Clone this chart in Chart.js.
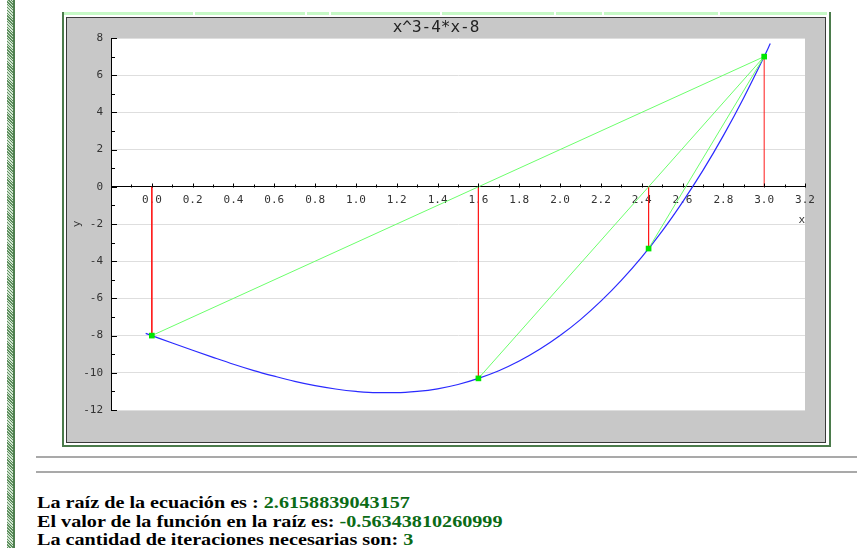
<!DOCTYPE html>
<html>
<head>
<meta charset="utf-8">
<script src="https://cdn.jsdelivr.net/npm/chart.js@4.4.1/dist/chart.umd.min.js"></script>
<style>
  body { margin: 0; background: #fff; width: 865px; height: 548px; overflow: hidden; position: relative; }
  #franja { position: absolute; left: 7px; top: 0; width: 6px; height: 548px;
    background: repeating-linear-gradient(45deg, #5d8f5d 0 1px, #d3e6d3 1px 2px);
    border-right: 2px solid #4f7f4f; }
  #marco { position: absolute; left: 62px; top: 12px; width: 765px; height: 433px;
    border-left: 2px solid #4b7b4b; border-right: 2px solid #4b7b4b; border-bottom: 2px solid #4b7b4b; }
  #barraSup { position: absolute; left: 64px; top: 12px; width: 763px; height: 3px; background: #c6f9c6; }
  .hueco { position: absolute; top: 12px; width: 2px; height: 3px; background: #fff; }
  #panel { position: absolute; left: 66px; top: 17px; width: 760px; height: 426px; box-sizing: border-box;
    border: 1px solid #3a3a3a; background: #c8c8c8; }
  #contenedor { position: absolute; left: 0; top: 0; width: 758px; height: 424px; }
  .regla { position: absolute; left: 36px; width: 821px; height: 2px; background: #a9a9a9; }
  #texto { position: absolute; left: 37px; top: 494px; font: bold 16px "Liberation Serif", serif; line-height: 18.5px;
    color: #000; transform: scaleX(1.26); transform-origin: 0 0; white-space: nowrap; }
  #texto span { color: #0b6b16; }
</style>
</head>
<body>
<div id="franja"></div>
<div id="marco"></div>
<div id="barraSup"></div>
<div id="panel"><div id="contenedor"><canvas id="grafico"></canvas></div></div>
<div class="regla" style="top:456px"></div>
<div class="regla" style="top:471px"></div>
<div id="texto">
  <div>La raíz de la ecuación es : <span>2.6158839043157</span></div>
  <div>El valor de la función en la raíz es: <span>-0.56343810260999</span></div>
  <div>La cantidad de iteraciones necesarias son: <span>3</span></div>
</div>
<script>
// Datos
const titulo = 'x^3-4*x-8';
const curvaX = [-0.03, 0, 0.1, 0.2, 0.3, 0.4, 0.5, 0.6, 0.7, 0.8, 0.9, 1.0, 1.1, 1.2, 1.3, 1.4, 1.5,
                1.6, 1.7, 1.8, 1.9, 2.0, 2.1, 2.2, 2.3, 2.4, 2.5, 2.6, 2.7, 2.8, 2.9, 3.0, 3.03];
const curvaY = [-7.88, -8.0, -8.4, -8.79, -9.17, -9.54, -9.88, -10.18, -10.46, -10.69, -10.87, -11.0, -11.07, -11.07,
                -11.0, -10.86, -10.63, -10.3, -9.89, -9.37, -8.74, -8.0, -7.14, -6.15, -5.03, -3.78, -2.38,
                -0.82, 0.88, 2.75, 4.79, 7.0, 7.7];
const iterX = [0, 1.6, 2.4337, 3.0];
const iterY = [-8.0, -10.3, -3.32, 7.0];
const xTicks = [-0.2, 0, 0.2, 0.4, 0.6, 0.8, 1.0, 1.2, 1.4, 1.6, 1.8, 2.0, 2.2, 2.4, 2.6, 2.8, 3.0, 3.2];
const xEtiquetas = ['', '0.0', '0.2', '0.4', '0.6', '0.8', '1.0', '1.2', '1.4', '1.6', '1.8', '2.0',
                    '2.2', '2.4', '2.6', '2.8', '3.0', '3.2'];
const yTicks = [8, 6, 4, 2, 0, -2, -4, -6, -8, -10, -12];
const huecosBarra = [193, 305, 329, 440, 554, 602, 718];

huecosBarra.forEach(function(x) {
    const h = document.createElement('div');
    h.className = 'hueco';
    h.style.left = x + 'px';
    document.body.appendChild(h);
});

const fuenteEjes = { family: 'DejaVu Sans Mono', size: 11 };

// Puntos de cada iteracion
const puntos = iterX.map((x, i) => ({ x: x, y: iterY[i] }));
const ultimo = puntos[puntos.length - 1];

const datasets = [];
datasets.push({
    data: puntos,
    showLine: false,
    pointStyle: 'rect',
    pointRadius: 4,
    backgroundColor: '#00e600',
    borderWidth: 0
});
// Secantes (verde)
for (let i = 0; i < puntos.length - 1; i++) {
    datasets.push({
        data: [puntos[i], ultimo],
        showLine: true,
        borderColor: '#6cff6c',
        borderWidth: 1,
        pointRadius: 0
    });
}
// Verticales (rojo)
puntos.forEach(function(p) {
    datasets.push({
        data: [{ x: p.x, y: 0 }, p],
        showLine: true,
        borderColor: '#ff1a1a',
        borderWidth: 1,
        pointRadius: 0
    });
});
// Funcion
datasets.push({
    data: curvaX.map((x, i) => ({ x: x, y: curvaY[i] })),
    showLine: true,
    borderColor: '#2a2aff',
    borderWidth: 1.2,
    pointRadius: 0,
    cubicInterpolationMode: 'monotone'
});

// Fondo blanco del area y marcas hacia adentro
const fondoYMarcas = {
    id: 'fondoYMarcas',
    beforeDraw(chart) {
        const { ctx, chartArea: a } = chart;
        ctx.save();
        ctx.fillStyle = '#ffffff';
        ctx.fillRect(a.left, a.top, a.right - a.left, a.bottom - a.top);
        ctx.restore();
    },
    afterDraw(chart) {
        const { ctx, chartArea: a, scales: { x, y } } = chart;
        const y0 = Math.round(y.getPixelForValue(0)) + 0.5;
        ctx.save();
        ctx.strokeStyle = '#000';
        ctx.lineWidth = 1;
        ctx.beginPath();
        for (let i = 0; i < yTicks.length; i++) {
            const py = Math.round(y.getPixelForValue(yTicks[i])) + 0.5;
            ctx.moveTo(a.left, py);
            ctx.lineTo(a.left + 6, py);
            if (i < yTicks.length - 1) {
                const pm = Math.round(y.getPixelForValue((yTicks[i] + yTicks[i + 1]) / 2)) + 0.5;
                ctx.moveTo(a.left, pm);
                ctx.lineTo(a.left + 4, pm);
            }
        }
        for (let i = 0; i < xTicks.length; i++) {
            const px = Math.round(x.getPixelForValue(xTicks[i])) + 0.5;
            ctx.moveTo(px, y0);
            ctx.lineTo(px, y0 - 4);
            if (i < xTicks.length - 1) {
                const pm = Math.round(x.getPixelForValue((xTicks[i] + xTicks[i + 1]) / 2)) + 0.5;
                ctx.moveTo(pm, y0);
                ctx.lineTo(pm, y0 - 3);
            }
        }
        ctx.stroke();
        ctx.restore();
    }
};

new Chart(document.getElementById('grafico'), {
    type: 'scatter',
    data: { datasets: datasets },
    plugins: [fondoYMarcas],
    options: {
        responsive: true,
        maintainAspectRatio: false,
        animation: false,
        layout: { padding: { top: 0, right: 20, bottom: 32, left: 0 } },
        plugins: {
            legend: { display: false },
            tooltip: { enabled: false },
            title: {
                display: true,
                text: titulo,
                color: '#222',
                font: { family: 'DejaVu Sans Mono', size: 16, weight: 'normal', lineHeight: 1 },
                padding: { top: 2, bottom: 2 }
            }
        },
        scales: {
            x: {
                type: 'linear',
                position: { y: 0 },
                min: -0.2,
                max: 3.2,
                afterBuildTicks: s => { s.ticks = xTicks.map(v => ({ value: v })); },
                ticks: {
                    autoSkip: false,
                    maxRotation: 0,
                    padding: 7,
                    color: '#333',
                    font: fuenteEjes,
                    callback: (v, i) => xEtiquetas[i]
                },
                grid: { display: false, drawTicks: false },
                border: { display: true, color: '#000', width: 1 },
                title: {
                    display: true,
                    text: 'x',
                    align: 'end',
                    color: '#333',
                    font: fuenteEjes,
                    padding: { top: 0, bottom: 0 }
                }
            },
            y: {
                type: 'linear',
                min: -12,
                max: 8,
                afterBuildTicks: s => { s.ticks = yTicks.map(v => ({ value: v })); },
                afterFit: s => { s.width = 44; },
                ticks: {
                    padding: 8,
                    color: '#333',
                    font: fuenteEjes,
                    callback: v => String(v)
                },
                grid: { color: '#dedede', drawTicks: false },
                border: { display: true, color: '#000', width: 1 },
                title: {
                    display: true,
                    text: 'y',
                    color: '#333',
                    font: fuenteEjes,
                    padding: { top: 4, bottom: 0 }
                }
            }
        }
    }
});
</script>
</body>
</html>
